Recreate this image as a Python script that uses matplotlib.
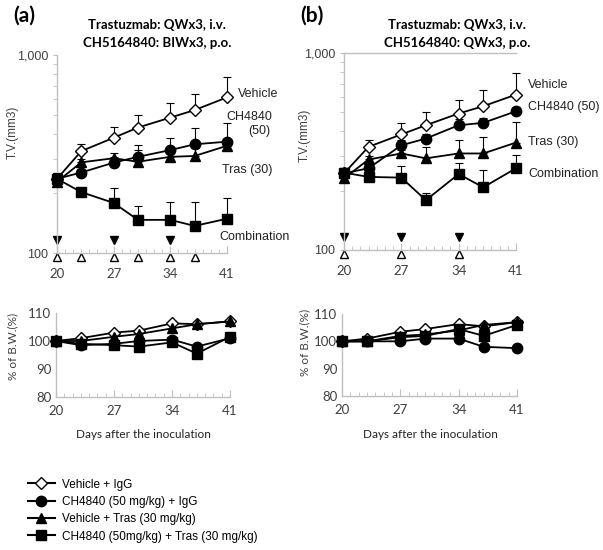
import numpy as np
import matplotlib.pyplot as plt
from matplotlib.lines import Line2D
from matplotlib.ticker import FixedLocator, NullFormatter, MultipleLocator

# Days of measurement
days = np.array([20, 23, 27, 30, 34, 37, 41])

# Tumor volume (mm3), panel (a)
tv_a_vehicle = [237, 327, 382, 430, 483, 527, 611]
tv_a_ch4840 = [237, 255, 286, 306, 331, 354, 365]
tv_a_tras = [229, 287, 301, 289, 306, 309, 348]
tv_a_combo = [237, 203, 179, 147, 147, 137, 149]
# upper end of error bars, panel (a)
cap_a_vehicle = [255, 354, 435, 498, 570, 633, 777]
cap_a_ch4840 = [255, 265, 305, 351, 380, 430, 452]
cap_a_tras = [245, 300, 320, 330, 340, 340, 370]
cap_a_combo = [255, 210, 214, 173, 180, 180, 190]

# Tumor volume (mm3), panel (b)
tv_b_vehicle = [245, 334, 386, 430, 493, 537, 615]
tv_b_ch4840 = [245, 260, 340, 368, 430, 442, 506]
tv_b_tras = [231, 288, 309, 292, 309, 309, 351]
tv_b_combo = [247, 235, 233, 179, 243, 208, 260]
cap_b_vehicle = [260, 361, 439, 502, 576, 647, 792]
cap_b_ch4840 = [260, 275, 360, 390, 460, 470, 530]
cap_b_tras = [245, 300, 320, 334, 361, 375, 447]
cap_b_combo = [262, 245, 267, 195, 278, 256, 305]

# Body weight (% of day 20)
bw_a_vehicle = [100, 101, 103, 103.7, 106.3, 106, 107]
bw_a_ch4840 = [100, 98.5, 99, 100, 100.5, 98, 101]
bw_a_tras = [100, 100, 101.5, 102.5, 104.5, 106, 107]
bw_a_combo = [100, 99, 98.5, 98, 99.5, 95.5, 101.5]

bw_b_vehicle = [100, 101, 103.5, 104.5, 106.3, 105.5, 107]
bw_b_ch4840 = [100, 100, 100, 101, 101, 98, 97.5]
bw_b_tras = [100, 100, 102, 102.5, 104, 106, 107]
bw_b_combo = [100, 100, 101.5, 102, 104.5, 102, 106]

# Dosing days
dose_filled_a = [20, 27, 34]
dose_open_a = [20, 23, 27, 30, 34, 37]
dose_filled_b = [20, 27, 34]
dose_open_b = [20, 27, 34]

labels = ["Vehicle + IgG", "CH4840 (50 mg/kg) + IgG",
          "Vehicle + Tras (30 mg/kg)", "CH4840 (50mg/kg) + Tras (30 mg/kg)"]

W, H = 603, 550
fig = plt.figure(figsize=(W / 100, H / 100), dpi=100)


def rect(x0, y_top, x1, y_bot):
    return [x0 / W, 1 - y_bot / H, (x1 - x0) / W, (y_bot - y_top) / H]


def ftext(x, y, s, **kw):
    fig.text(x / W, 1 - y / H, s, **kw)


GRAY = "#bfbfbf"
TXT = "#404040"
styles = [dict(marker="D", mfc="white", ms=6.0),
          dict(marker="o", mfc="black", ms=7.5),
          dict(marker="^", mfc="black", ms=7.5),
          dict(marker="s", mfc="black", ms=7.0)]


def style_axes(ax):
    for s in ["top", "right"]:
        ax.spines[s].set_visible(False)
    for s in ["left", "bottom"]:
        ax.spines[s].set_color(GRAY)
        ax.spines[s].set_linewidth(1.0)
    ax.set_xlim(20, 41)
    ax.set_xticks([20, 27, 34, 41])
    ax.xaxis.set_minor_locator(MultipleLocator(1))
    ax.tick_params(axis="x", which="both", direction="in", color=GRAY,
                   labelcolor=TXT, labelsize=9.5)
    ax.tick_params(axis="x", which="major", length=5)
    ax.tick_params(axis="x", which="minor", length=3)
    for lab in ax.get_xticklabels():
        lab.set_family("Lato")


def tv_panel(ax, series, caps, filled, opened, hline):
    style_axes(ax)
    ax.set_yscale("log")
    ax.set_ylim(100, 1000)
    ax.yaxis.set_major_locator(FixedLocator([100, 1000]))
    ax.set_yticklabels(["100", "1,000"])
    ax.yaxis.set_minor_locator(FixedLocator(range(200, 1000, 100)))
    ax.yaxis.set_minor_formatter(NullFormatter())
    ax.tick_params(axis="y", which="both", color=GRAY, labelcolor=TXT,
                   labelsize=9, length=3)
    ax.tick_params(axis="x", which="major", pad=11)
    for lab in ax.get_yticklabels():
        lab.set_family("Liberation Sans")
    if hline:
        ax.axhline(1000, color=GRAY, lw=1.0, clip_on=False)
    for vals, cp, st in zip(series, caps, styles):
        vals = np.array(vals, float)
        err = np.array(cp, float) - vals
        ax.errorbar(days, vals, yerr=[np.zeros_like(err), err], fmt="none",
                    ecolor="black", elinewidth=0.8, capsize=3, capthick=0.8,
                    clip_on=False)
    for vals, st in zip(series, styles):
        ax.plot(days, vals, color="black", lw=1.3, mec="black", mew=1.0,
                clip_on=False, zorder=3, **st)
    ax.plot(filled, [116] * len(filled), "v", color="black", ms=5.5,
            clip_on=False)
    ax.plot(opened, [95.5] * len(opened), "^", mfc="white", mec="black",
            mew=1.0, ms=5.5, clip_on=False)


def bw_panel(ax, series):
    style_axes(ax)
    ax.set_ylim(80, 110)
    ax.set_yticks([80, 90, 100, 110])
    ax.tick_params(axis="y", length=0, labelcolor=TXT, labelsize=9.5)
    for lab in ax.get_yticklabels():
        lab.set_family("Lato")
    ax.tick_params(axis="x", which="major", pad=6)
    for vals, st in zip(series, styles):
        ax.plot(days, vals, color="black", lw=1.3, mec="black", mew=1.0,
                clip_on=False, zorder=3, **st)


ax1 = fig.add_axes(rect(57, 55, 227, 253))
tv_panel(ax1, [tv_a_vehicle, tv_a_ch4840, tv_a_tras, tv_a_combo],
         [cap_a_vehicle, cap_a_ch4840, cap_a_tras, cap_a_combo],
         dose_filled_a, dose_open_a, False)

ax2 = fig.add_axes(rect(344, 53, 516, 250))
tv_panel(ax2, [tv_b_vehicle, tv_b_ch4840, tv_b_tras, tv_b_combo],
         [cap_b_vehicle, cap_b_ch4840, cap_b_tras, cap_b_combo],
         dose_filled_b, dose_open_b, True)

ax3 = fig.add_axes(rect(56, 313, 230, 397))
bw_panel(ax3, [bw_a_vehicle, bw_a_ch4840, bw_a_tras, bw_a_combo])

ax4 = fig.add_axes(rect(342, 314, 517, 396))
bw_panel(ax4, [bw_b_vehicle, bw_b_ch4840, bw_b_tras, bw_b_combo])

# panel letters and titles
ftext(24, 16, "(a)", fontsize=15, fontweight="bold", family="Lato",
      ha="center", va="center")
ftext(312, 16, "(b)", fontsize=15, fontweight="bold", family="Lato",
      ha="center", va="center")
title_kw = dict(fontsize=9.5, fontweight="bold", family="Lato",
                ha="center", va="center")
ftext(157, 25, "Trastuzmab: QWx3, i.v.", **title_kw)
ftext(157, 43, "CH5164840: BIWx3, p.o.", **title_kw)
ftext(457, 25, "Trastuzmab: QWx3, i.v.", **title_kw)
ftext(457, 43, "CH5164840: QWx3, p.o.", **title_kw)

# y labels
ftext(13, 132, "T.V.(mm3)", fontsize=8.5, color=TXT, rotation=90,
      family="Liberation Sans", ha="center", va="center")
ftext(305, 135, "T.V.(mm3)", fontsize=8.5, color=TXT, rotation=90,
      family="Liberation Sans", ha="center", va="center")
ftext(13, 346, "% of B.W.(%)", fontsize=8.5, color=TXT, rotation=90,
      family="Lato", ha="center", va="center")
ftext(305, 342, "% of B.W.(%)", fontsize=8.5, color=TXT, rotation=90,
      family="Lato", ha="center", va="center")

# x labels
ftext(143, 434, "Days after the inoculation", fontsize=8.5, color="#222222",
      family="Lato", ha="center", va="center")
ftext(430, 434, "Days after the inoculation", fontsize=8.5, color="#222222",
      family="Lato", ha="center", va="center")

# series labels
lab_kw = dict(fontsize=9, color="#222222", family="Liberation Sans",
              va="center")
ftext(238, 94, "Vehicle", **lab_kw)
ftext(226, 117, "CH4840", **lab_kw)
ftext(248, 131, "(50)", **lab_kw)
ftext(222, 170, "Tras (30)", **lab_kw)
ftext(219, 237, "Combination", **lab_kw)
ftext(528, 85, "Vehicle", **lab_kw)
ftext(528, 107, "CH4840 (50)", **lab_kw)
ftext(528, 142, "Tras (30)", **lab_kw)
ftext(528, 174, "Combination", **lab_kw)

# legend
handles = [Line2D([], [], color="black", lw=1.5, mec="black", mew=1.0, **st)
           for st in styles]
fig.legend(handles, labels, loc="upper left",
           bbox_to_anchor=(17 / W, 1 - 468 / H), frameon=False,
           handlelength=2.3, handletextpad=0.6, labelspacing=0.45,
           prop={"family": "Liberation Sans", "size": 8.5})

fig.savefig("out.png", dpi=100)
